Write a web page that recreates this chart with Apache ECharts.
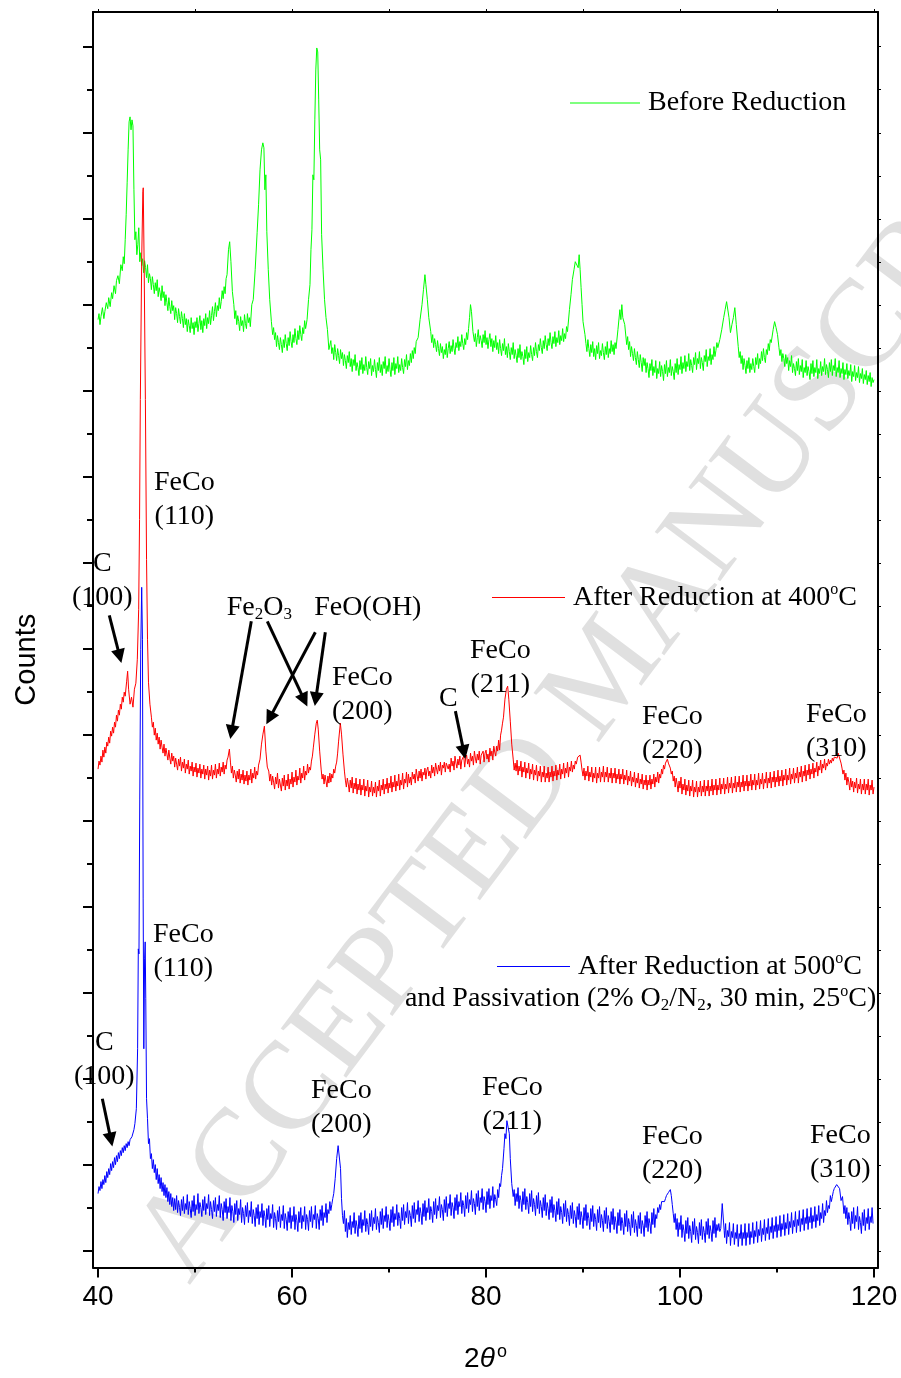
<!DOCTYPE html>
<html>
<head>
<meta charset="utf-8">
<script src="https://cdn.jsdelivr.net/npm/echarts@6/dist/echarts.min.js"></script>
<style>
  html, body { margin: 0; padding: 0; background: #fff; }
  #xrd { width: 901px; height: 1378px; }
</style>
</head>
<body>
<div id="xrd"></div>
<script>
const serif = '"Liberation Serif", "Times New Roman", serif'
const sans = '"Liberation Sans", Arial, sans-serif'

// axis ticks (2theta in degrees, counts in arbitrary units)
const xMajorTicks = [40, 60, 80, 100, 120]
const xMinorTicks = [50, 70, 90, 110]
const xTopTicks = [40, 50, 60, 70, 80, 90, 100, 110, 120]
const yMajorTicks = [16.3, 102.4, 188.6, 274.7, 360.9, 447.0, 533.1, 619.3, 705.4, 791.6, 877.7, 963.8, 1050.0, 1136.1, 1222.3]
const yMinorTicks = [59.4, 145.5, 231.6, 317.8, 403.9, 490.1, 576.2, 662.3, 748.5, 834.6, 920.8, 1006.9, 1093.0, 1179.2]

// patterns: [2theta, counts]
const beforeReduction = [[40.0,949],[40.1,955],[40.2,944],[40.3,952],[40.45,961],[40.6,950],[40.7,957],[40.85,966],[41.0,960],[41.1,971],[41.25,962],[41.4,976],[41.5,970],[41.65,983],[41.8,975],[41.9,988],[42.05,993],[42.2,985],[42.35,1004],[42.5,998],[42.6,1012],[42.7,1005],[42.8,1029],[42.9,1054],[43.0,1086],[43.1,1119],[43.2,1147],[43.3,1152],[43.4,1139],[43.5,1149],[43.6,1143],[43.7,1079],[43.8,1029],[43.9,1037],[44.0,1014],[44.1,1024],[44.2,1041],[44.3,1007],[44.4,1016],[44.5,1003],[44.6,1010],[44.7,996],[44.8,1008],[44.9,1001],[45.0,991],[45.1,1004],[45.2,986],[45.3,995],[45.4,990],[45.5,979],[45.6,992],[45.7,984],[45.8,975],[45.9,986],[46.0,978],[46.1,989],[46.2,972],[46.3,981],[46.4,976],[46.5,968],[46.6,983],[46.7,971],[46.8,977],[46.9,963],[47.0,974],[47.1,966],[47.2,958],[47.3,971],[47.4,962],[47.5,955],[47.6,968],[47.7,958],[47.8,963],[47.9,949],[48.0,961],[48.1,955],[48.2,946],[48.3,960],[48.4,952],[48.5,945],[48.6,957],[48.7,950],[48.8,941],[48.9,955],[49.0,944],[49.1,950],[49.2,937],[49.3,949],[49.4,943],[49.5,936],[49.6,951],[49.7,940],[49.8,946],[49.9,934],[50.0,947],[50.1,941],[50.2,951],[50.3,937],[50.4,945],[50.5,953],[50.6,939],[50.7,948],[50.8,936],[50.9,950],[51.0,943],[51.1,955],[51.2,940],[51.3,951],[51.4,945],[51.5,958],[51.6,944],[51.7,953],[51.8,962],[51.9,948],[52.0,957],[52.1,966],[52.2,952],[52.3,963],[52.4,958],[52.5,971],[52.6,960],[52.7,967],[52.8,978],[52.9,970],[53.0,982],[53.1,975],[53.2,990],[53.3,994],[53.45,1019],[53.57,1027],[53.7,1007],[53.85,977],[54.0,964],[54.1,950],[54.2,958],[54.3,944],[54.4,953],[54.5,947],[54.6,938],[54.7,952],[54.8,943],[54.9,948],[55.0,937],[55.1,954],[55.2,945],[55.3,940],[55.4,955],[55.5,946],[55.6,951],[55.7,942],[55.85,964],[56.0,969],[56.2,999],[56.4,1036],[56.55,1064],[56.7,1099],[56.85,1119],[56.99,1126],[57.1,1121],[57.2,1079],[57.3,1094],[57.4,1037],[57.55,999],[57.7,969],[57.87,947],[58.0,934],[58.1,941],[58.2,929],[58.3,936],[58.4,922],[58.5,933],[58.6,926],[58.7,919],[58.8,931],[58.9,924],[59.0,916],[59.1,929],[59.2,921],[59.3,934],[59.4,925],[59.5,918],[59.6,931],[59.7,923],[59.8,937],[59.9,927],[60.0,921],[60.1,934],[60.2,926],[60.3,940],[60.4,930],[60.5,924],[60.6,938],[60.7,929],[60.8,943],[60.9,934],[61.0,928],[61.1,941],[61.2,935],[61.3,948],[61.4,940],[61.55,949],[61.7,969],[61.85,984],[61.95,1019],[62.05,1039],[62.15,1094],[62.25,1089],[62.35,1149],[62.45,1199],[62.55,1221],[62.65,1217],[62.75,1169],[62.85,1119],[62.95,1109],[63.05,1034],[63.2,999],[63.35,969],[63.5,951],[63.65,939],[63.8,919],[64.0,928],[64.1,915],[64.2,921],[64.3,909],[64.4,924],[64.5,916],[64.6,908],[64.7,920],[64.8,913],[64.9,905],[65.0,919],[65.1,910],[65.2,916],[65.3,903],[65.4,914],[65.5,908],[65.6,900],[65.7,913],[65.8,906],[65.9,917],[66.0,902],[66.1,910],[66.2,897],[66.3,909],[66.4,903],[66.5,914],[66.6,898],[66.7,906],[66.8,901],[66.9,893],[67.0,908],[67.1,899],[67.2,911],[67.3,895],[67.4,904],[67.5,898],[67.6,912],[67.7,901],[67.8,894],[67.9,907],[68.0,900],[68.1,910],[68.2,893],[68.3,903],[68.4,897],[68.5,909],[68.6,899],[68.7,891],[68.8,906],[68.9,898],[69.0,911],[69.1,896],[69.2,904],[69.3,893],[69.4,907],[69.5,900],[69.6,912],[69.7,895],[69.8,903],[69.9,897],[70.0,910],[70.1,899],[70.2,892],[70.3,906],[70.4,898],[70.5,911],[70.6,894],[70.7,905],[70.8,900],[70.9,912],[71.0,896],[71.1,904],[71.2,898],[71.3,910],[71.4,901],[71.5,895],[71.6,909],[71.7,902],[71.8,914],[71.9,899],[72.0,908],[72.1,903],[72.2,915],[72.3,906],[72.4,918],[72.5,910],[72.6,921],[72.7,915],[72.8,927],[73.0,931],[73.2,949],[73.4,964],[73.55,979],[73.7,994],[73.8,984],[73.95,969],[74.1,951],[74.3,937],[74.4,926],[74.5,934],[74.6,921],[74.7,930],[74.8,924],[74.9,917],[75.0,928],[75.1,920],[75.2,913],[75.3,925],[75.4,916],[75.5,922],[75.6,910],[75.7,919],[75.8,914],[75.9,925],[76.0,911],[76.1,920],[76.2,927],[76.3,915],[76.4,923],[76.5,917],[76.6,929],[76.7,920],[76.8,914],[76.9,926],[77.0,921],[77.1,932],[77.2,918],[77.3,927],[77.4,922],[77.5,934],[77.6,925],[77.7,919],[77.8,930],[77.9,924],[78.0,936],[78.1,929],[78.2,940],[78.3,951],[78.4,964],[78.5,957],[78.65,937],[78.8,927],[78.9,935],[79.0,922],[79.1,931],[79.2,939],[79.3,925],[79.4,933],[79.5,928],[79.6,921],[79.7,934],[79.8,926],[79.9,938],[80.0,924],[80.1,931],[80.2,920],[80.3,929],[80.4,935],[80.5,922],[80.6,930],[80.7,917],[80.8,928],[80.9,921],[81.0,933],[81.1,919],[81.2,926],[81.3,915],[81.4,929],[81.5,920],[81.6,913],[81.7,925],[81.8,918],[81.9,930],[82.0,914],[82.1,922],[82.2,911],[82.3,925],[82.4,917],[82.5,909],[82.6,921],[82.7,914],[82.8,926],[82.9,910],[83.0,919],[83.1,913],[83.2,906],[83.3,920],[83.4,911],[83.5,924],[83.6,909],[83.7,917],[83.8,912],[83.9,904],[84.0,919],[84.1,910],[84.2,922],[84.3,907],[84.4,916],[84.5,911],[84.6,923],[84.7,914],[84.8,908],[84.9,921],[85.0,913],[85.1,926],[85.2,917],[85.3,911],[85.4,924],[85.5,918],[85.6,930],[85.7,921],[85.8,915],[85.9,928],[86.0,920],[86.1,933],[86.2,924],[86.3,918],[86.4,930],[86.5,923],[86.6,936],[86.7,926],[86.8,920],[86.9,932],[87.0,925],[87.1,937],[87.2,922],[87.3,931],[87.4,926],[87.5,938],[87.6,924],[87.7,933],[87.8,928],[87.9,940],[88.0,927],[88.1,935],[88.2,930],[88.3,942],[88.4,937],[88.6,959],[88.76,974],[88.9,989],[89.07,999],[89.2,1007],[89.4,1009],[89.5,1001],[89.6,1014],[89.7,999],[89.8,981],[89.9,964],[90.0,947],[90.2,934],[90.3,925],[90.4,917],[90.5,929],[90.6,920],[90.7,912],[90.8,924],[90.9,916],[91.0,927],[91.1,912],[91.2,920],[91.3,909],[91.4,923],[91.5,915],[91.6,926],[91.7,910],[91.8,918],[91.9,913],[92.0,925],[92.1,916],[92.2,909],[92.3,922],[92.4,914],[92.5,927],[92.6,911],[92.7,920],[92.8,915],[92.9,928],[93.0,917],[93.1,924],[93.2,914],[93.3,926],[93.4,920],[93.6,939],[93.8,959],[93.9,949],[94.0,964],[94.1,951],[94.3,944],[94.5,924],[94.6,932],[94.7,919],[94.8,927],[94.9,912],[95.0,922],[95.1,915],[95.2,908],[95.3,920],[95.4,911],[95.5,904],[95.6,917],[95.7,909],[95.8,901],[95.9,914],[96.0,906],[96.1,897],[96.2,911],[96.3,903],[96.4,910],[96.5,896],[96.6,906],[96.7,900],[96.8,891],[96.9,905],[97.0,898],[97.1,909],[97.2,893],[97.3,902],[97.4,896],[97.5,908],[97.6,890],[97.7,900],[97.8,895],[97.9,907],[98.0,892],[98.1,903],[98.2,897],[98.3,888],[98.4,904],[98.5,895],[98.6,908],[98.7,892],[98.8,901],[98.9,896],[99.0,909],[99.1,893],[99.2,902],[99.3,897],[99.4,889],[99.5,905],[99.6,896],[99.7,910],[99.8,894],[99.9,904],[100.0,899],[100.1,912],[100.2,895],[100.3,906],[100.4,900],[100.5,913],[100.6,897],[100.7,907],[100.8,902],[100.9,915],[101.0,898],[101.1,909],[101.2,903],[101.3,896],[101.4,911],[101.5,904],[101.6,916],[101.7,899],[101.8,910],[101.9,905],[102.0,917],[102.1,900],[102.2,911],[102.3,906],[102.4,898],[102.5,913],[102.6,907],[102.7,919],[102.8,902],[102.9,912],[103.0,908],[103.1,920],[103.2,904],[103.3,914],[103.4,909],[103.5,922],[103.6,912],[103.7,918],[103.8,926],[103.9,921],[104.1,929],[104.3,939],[104.5,951],[104.65,959],[104.8,967],[104.95,969],[105.05,951],[105.2,936],[105.35,944],[105.5,951],[105.65,961],[105.8,944],[106.0,922],[106.1,911],[106.2,917],[106.3,905],[106.4,913],[106.5,899],[106.6,910],[106.7,903],[106.8,895],[106.9,908],[107.0,900],[107.1,911],[107.2,896],[107.3,905],[107.4,899],[107.5,910],[107.6,902],[107.7,896],[107.8,911],[107.9,904],[108.0,915],[108.1,900],[108.2,910],[108.3,905],[108.4,917],[108.5,908],[108.6,920],[108.7,911],[108.8,906],[108.9,919],[109.0,914],[109.1,925],[109.2,918],[109.3,929],[109.4,926],[109.6,939],[109.75,947],[109.9,941],[110.05,934],[110.2,921],[110.3,913],[110.4,919],[110.5,907],[110.6,915],[110.7,910],[110.8,902],[110.9,914],[111.0,905],[111.1,911],[111.2,898],[111.3,908],[111.4,902],[111.5,913],[111.6,896],[111.7,905],[111.8,900],[111.9,893],[112.0,907],[112.1,898],[112.2,910],[112.3,894],[112.4,903],[112.5,897],[112.6,909],[112.7,891],[112.8,901],[112.9,896],[113.0,908],[113.1,893],[113.2,902],[113.3,897],[113.4,889],[113.5,905],[113.6,895],[113.7,908],[113.8,892],[113.9,901],[114.0,896],[114.1,909],[114.2,890],[114.3,900],[114.4,895],[114.5,907],[114.6,893],[114.7,902],[114.8,897],[114.9,910],[115.0,894],[115.1,904],[115.2,899],[115.3,891],[115.4,906],[115.5,897],[115.6,909],[115.7,893],[115.8,903],[115.9,898],[116.0,910],[116.1,892],[116.2,901],[116.3,896],[116.4,908],[116.5,891],[116.6,900],[116.7,895],[116.8,906],[116.9,889],[117.0,899],[117.1,894],[117.2,905],[117.3,890],[117.4,898],[117.5,893],[117.6,904],[117.7,887],[117.8,897],[117.9,892],[118.0,903],[118.1,888],[118.2,896],[118.3,891],[118.4,902],[118.5,886],[118.6,895],[118.7,890],[118.8,900],[118.9,885],[119.0,894],[119.1,889],[119.2,898],[119.3,884],[119.4,893],[119.5,887],[119.6,896],[119.7,882],[119.8,891],[119.9,886],[120.0,889]]

const after400 = [[40.0,499],[40.1,507],[40.2,503],[40.3,512],[40.4,506],[40.5,518],[40.6,511],[40.7,521],[40.8,515],[40.9,526],[41.0,522],[41.1,531],[41.2,525],[41.3,537],[41.4,532],[41.5,541],[41.6,535],[41.7,546],[41.8,541],[41.9,553],[42.0,547],[42.1,558],[42.2,553],[42.3,564],[42.4,559],[42.5,571],[42.6,566],[42.7,576],[42.8,572],[42.95,587],[43.05,597],[43.15,579],[43.3,564],[43.45,571],[43.6,561],[43.75,579],[43.9,585],[44.05,609],[44.19,659],[44.28,749],[44.36,869],[44.5,1009],[44.62,1077],[44.66,1081],[44.75,1007],[44.88,869],[45.0,709],[45.1,629],[45.2,586],[45.35,564],[45.5,551],[45.6,541],[45.7,546],[45.8,533],[45.9,540],[46.0,528],[46.1,535],[46.2,524],[46.3,531],[46.4,519],[46.5,528],[46.6,521],[46.7,515],[46.8,524],[46.9,512],[47.0,520],[47.1,514],[47.2,508],[47.3,518],[47.4,510],[47.5,504],[47.6,515],[47.7,507],[47.8,512],[47.9,501],[48.0,510],[48.1,504],[48.2,498],[48.3,509],[48.4,502],[48.5,511],[48.6,497],[48.7,506],[48.8,500],[48.9,509],[49.0,495],[49.1,504],[49.2,499],[49.3,508],[49.4,494],[49.5,502],[49.6,497],[49.7,506],[49.8,492],[49.9,501],[50.0,496],[50.1,505],[50.2,491],[50.3,500],[50.4,495],[50.5,504],[50.6,490],[50.7,499],[50.8,494],[50.9,503],[51.0,489],[51.1,499],[51.2,493],[51.3,502],[51.4,488],[51.5,498],[51.6,492],[51.7,503],[51.8,489],[51.9,498],[52.0,493],[52.1,504],[52.2,490],[52.3,499],[52.4,494],[52.5,505],[52.6,492],[52.7,501],[52.8,496],[52.9,506],[53.0,494],[53.1,503],[53.2,499],[53.3,508],[53.4,511],[53.54,519],[53.65,506],[53.75,495],[53.85,502],[53.95,490],[54.05,498],[54.15,493],[54.25,486],[54.35,497],[54.45,489],[54.55,499],[54.65,485],[54.75,494],[54.85,488],[54.95,498],[55.05,484],[55.15,493],[55.25,487],[55.35,497],[55.45,483],[55.55,493],[55.65,488],[55.75,499],[55.85,485],[55.95,495],[56.05,490],[56.15,501],[56.25,489],[56.35,497],[56.45,493],[56.55,503],[56.7,509],[56.85,524],[57.0,534],[57.15,542],[57.3,517],[57.45,501],[57.6,497],[57.7,487],[57.8,494],[57.9,483],[58.0,492],[58.1,486],[58.2,479],[58.3,491],[58.4,484],[58.5,495],[58.6,480],[58.7,489],[58.8,483],[58.9,477],[59.0,490],[59.1,482],[59.2,493],[59.3,478],[59.4,488],[59.5,482],[59.6,494],[59.7,479],[59.8,489],[59.9,484],[60.0,496],[60.1,481],[60.2,491],[60.3,486],[60.4,498],[60.5,483],[60.6,492],[60.7,488],[60.8,500],[60.9,485],[61.0,495],[61.1,490],[61.2,502],[61.3,488],[61.4,497],[61.5,493],[61.6,504],[61.7,495],[61.8,501],[61.9,498],[62.0,507],[62.1,512],[62.2,521],[62.35,534],[62.5,545],[62.6,548],[62.7,539],[62.85,517],[63.0,499],[63.1,489],[63.2,494],[63.3,484],[63.4,493],[63.5,487],[63.6,481],[63.7,492],[63.8,485],[63.9,495],[64.0,486],[64.1,494],[64.2,490],[64.3,499],[64.4,495],[64.5,502],[64.6,506],[64.7,515],[64.8,527],[64.98,545],[65.1,534],[65.25,514],[65.4,497],[65.5,488],[65.6,481],[65.7,490],[65.8,484],[65.9,476],[66.0,488],[66.1,480],[66.2,491],[66.3,475],[66.4,485],[66.5,479],[66.6,490],[66.7,474],[66.8,484],[66.9,478],[67.0,489],[67.1,473],[67.2,483],[67.3,478],[67.4,489],[67.5,472],[67.6,482],[67.7,477],[67.8,488],[67.9,471],[68.0,481],[68.1,476],[68.2,487],[68.3,472],[68.4,481],[68.5,475],[68.6,486],[68.7,471],[68.8,482],[68.9,477],[69.0,488],[69.1,472],[69.2,483],[69.3,478],[69.4,489],[69.5,474],[69.6,484],[69.7,479],[69.8,490],[69.9,475],[70.0,485],[70.1,480],[70.2,492],[70.3,476],[70.4,486],[70.5,481],[70.6,493],[70.7,477],[70.8,487],[70.9,482],[71.0,494],[71.1,478],[71.2,488],[71.3,483],[71.4,495],[71.5,479],[71.6,489],[71.7,485],[71.8,496],[71.9,481],[72.0,494],[72.1,485],[72.2,491],[72.3,483],[72.4,496],[72.5,489],[72.6,494],[72.7,485],[72.8,499],[72.9,492],[73.0,487],[73.1,497],[73.2,490],[73.3,499],[73.4,487],[73.5,496],[73.6,493],[73.7,500],[73.8,489],[73.9,498],[74.0,501],[74.1,492],[74.2,497],[74.3,490],[74.4,503],[74.5,495],[74.6,501],[74.7,492],[74.8,505],[74.9,499],[75.0,494],[75.1,503],[75.2,497],[75.3,506],[75.4,493],[75.5,503],[75.6,500],[75.7,506],[75.8,496],[75.9,505],[76.0,507],[76.1,499],[76.2,504],[76.3,496],[76.4,510],[76.5,502],[76.6,507],[76.7,498],[76.8,512],[76.9,505],[77.0,500],[77.1,509],[77.2,503],[77.3,512],[77.4,499],[77.5,508],[77.6,506],[77.7,512],[77.8,501],[77.9,510],[78.0,513],[78.1,504],[78.2,509],[78.3,501],[78.4,515],[78.5,507],[78.6,512],[78.7,503],[78.8,517],[78.9,510],[79.0,505],[79.1,514],[79.2,508],[79.3,517],[79.4,504],[79.5,513],[79.6,511],[79.7,517],[79.8,506],[79.9,515],[80.0,518],[80.1,509],[80.2,514],[80.3,506],[80.4,520],[80.5,512],[80.6,517],[80.7,508],[80.8,522],[80.9,516],[81.0,512],[81.1,522],[81.2,517],[81.3,528],[81.4,518],[81.5,533],[81.6,538],[81.7,545],[81.8,551],[81.95,569],[82.1,579],[82.23,582],[82.35,569],[82.5,547],[82.65,524],[82.8,509],[82.9,498],[83.0,505],[83.1,497],[83.2,508],[83.3,493],[83.4,502],[83.5,497],[83.6,507],[83.7,491],[83.8,501],[83.9,496],[84.0,506],[84.1,490],[84.2,500],[84.3,495],[84.4,505],[84.5,489],[84.6,499],[84.7,494],[84.8,504],[84.9,488],[85.0,498],[85.1,493],[85.2,503],[85.3,487],[85.4,497],[85.5,492],[85.6,502],[85.7,486],[85.8,496],[85.9,491],[86.0,502],[86.1,486],[86.2,495],[86.3,490],[86.4,501],[86.5,486],[86.6,496],[86.7,491],[86.8,502],[86.9,487],[87.0,497],[87.1,492],[87.2,503],[87.3,488],[87.4,498],[87.5,493],[87.6,504],[87.7,489],[87.8,499],[87.9,494],[88.0,505],[88.1,490],[88.2,500],[88.3,495],[88.4,506],[88.5,491],[88.6,501],[88.7,497],[88.8,507],[88.9,496],[89.0,503],[89.1,499],[89.2,507],[89.3,504],[89.45,511],[89.6,509],[89.7,513],[89.8,506],[89.9,498],[90.0,492],[90.1,500],[90.2,488],[90.3,497],[90.4,492],[90.5,502],[90.6,487],[90.7,496],[90.8,491],[90.9,501],[91.0,486],[91.1,495],[91.2,490],[91.3,501],[91.4,485],[91.5,495],[91.6,490],[91.7,501],[91.8,486],[91.9,496],[92.0,491],[92.1,502],[92.2,486],[92.3,496],[92.4,491],[92.5,501],[92.6,486],[92.7,495],[92.8,490],[92.9,500],[93.0,485],[93.1,495],[93.2,490],[93.3,500],[93.4,485],[93.5,494],[93.6,489],[93.7,499],[93.8,484],[93.9,494],[94.0,489],[94.1,499],[94.2,484],[94.3,493],[94.4,488],[94.5,498],[94.6,483],[94.7,492],[94.8,487],[94.9,497],[95.0,482],[95.1,491],[95.2,486],[95.3,496],[95.4,481],[95.5,490],[95.6,485],[95.7,495],[95.8,480],[95.9,489],[96.0,484],[96.1,494],[96.2,479],[96.3,488],[96.4,483],[96.5,493],[96.6,478],[96.7,488],[96.8,483],[96.9,493],[97.0,479],[97.1,489],[97.2,484],[97.3,494],[97.4,481],[97.5,491],[97.6,486],[97.7,496],[97.8,485],[97.9,494],[98.0,490],[98.1,499],[98.2,494],[98.3,503],[98.4,499],[98.5,505],[98.6,503],[98.7,509],[98.8,505],[98.9,507],[99.0,500],[99.1,494],[99.2,497],[99.3,487],[99.4,492],[99.5,481],[99.6,490],[99.7,484],[99.8,476],[99.9,487],[100.0,480],[100.1,491],[100.2,474],[100.3,484],[100.4,478],[100.5,489],[100.6,473],[100.7,483],[100.8,477],[100.9,488],[101.0,472],[101.1,482],[101.2,477],[101.3,488],[101.4,471],[101.5,481],[101.6,476],[101.7,487],[101.8,471],[101.9,481],[102.0,476],[102.1,487],[102.2,472],[102.3,482],[102.4,476],[102.5,488],[102.6,472],[102.7,482],[102.8,477],[102.9,488],[103.0,472],[103.1,482],[103.2,477],[103.3,489],[103.4,473],[103.5,483],[103.6,478],[103.7,489],[103.8,473],[103.9,483],[104.0,478],[104.1,490],[104.2,474],[104.3,484],[104.4,479],[104.5,490],[104.6,474],[104.7,484],[104.8,479],[104.9,491],[105.0,475],[105.1,485],[105.2,480],[105.3,491],[105.4,475],[105.5,485],[105.6,480],[105.7,492],[105.8,476],[105.9,486],[106.0,481],[106.1,492],[106.2,476],[106.3,486],[106.4,481],[106.5,493],[106.6,477],[106.7,487],[106.8,482],[106.9,493],[107.0,477],[107.1,487],[107.2,482],[107.3,494],[107.4,478],[107.5,488],[107.6,483],[107.7,494],[107.8,478],[107.9,488],[108.0,483],[108.1,495],[108.2,479],[108.3,489],[108.4,484],[108.5,495],[108.6,479],[108.7,489],[108.8,485],[108.9,496],[109.0,480],[109.1,490],[109.2,485],[109.3,496],[109.4,480],[109.5,491],[109.6,486],[109.7,497],[109.8,481],[109.9,491],[110.0,486],[110.1,498],[110.2,482],[110.3,492],[110.4,487],[110.5,498],[110.6,482],[110.7,493],[110.8,488],[110.9,499],[111.0,483],[111.1,493],[111.2,488],[111.3,500],[111.4,484],[111.5,494],[111.6,489],[111.7,500],[111.8,485],[111.9,495],[112.0,490],[112.1,501],[112.2,485],[112.3,496],[112.4,491],[112.5,502],[112.6,486],[112.7,497],[112.8,492],[112.9,503],[113.0,487],[113.1,498],[113.2,493],[113.3,504],[113.4,489],[113.5,499],[113.6,494],[113.7,505],[113.8,490],[113.9,500],[114.0,496],[114.1,506],[114.2,492],[114.3,502],[114.4,498],[114.5,508],[114.6,495],[114.7,504],[114.8,500],[114.9,509],[115.0,498],[115.1,505],[115.2,502],[115.3,509],[115.4,504],[115.5,508],[115.6,505],[115.7,510],[115.8,507],[115.9,511],[116.0,509],[116.1,513],[116.2,510],[116.3,515],[116.45,513],[116.6,505],[116.7,500],[116.8,494],[116.9,498],[117.0,488],[117.1,495],[117.2,483],[117.3,491],[117.4,486],[117.5,478],[117.6,490],[117.7,481],[117.8,487],[117.9,476],[118.0,486],[118.1,480],[118.2,490],[118.3,475],[118.4,484],[118.5,479],[118.6,489],[118.7,474],[118.8,484],[118.9,478],[119.0,489],[119.1,474],[119.2,484],[119.3,478],[119.4,489],[119.5,473],[119.6,483],[119.7,478],[119.8,488],[119.9,474],[120.0,481]]

const after500 = [[40.0,74],[40.1,81],[40.2,77],[40.3,86],[40.4,79],[40.5,88],[40.6,83],[40.7,92],[40.8,85],[40.9,96],[41.0,90],[41.1,99],[41.2,93],[41.3,104],[41.4,97],[41.5,106],[41.6,100],[41.7,110],[41.8,103],[41.9,112],[42.0,106],[42.1,115],[42.2,109],[42.3,117],[42.4,112],[42.5,120],[42.6,115],[42.7,122],[42.8,117],[42.9,124],[43.0,120],[43.1,126],[43.2,122],[43.3,128],[43.4,126],[43.5,131],[43.6,133],[43.7,138],[43.8,144],[43.95,159],[44.08,219],[44.15,319],[44.22,314],[44.3,469],[44.4,619],[44.5,681],[44.58,629],[44.65,369],[44.72,219],[44.8,309],[44.86,326],[44.92,269],[45.0,169],[45.1,149],[45.2,124],[45.3,129],[45.4,109],[45.5,114],[45.6,99],[45.7,108],[45.8,95],[45.9,103],[46.0,88],[46.1,99],[46.2,84],[46.3,93],[46.4,79],[46.5,90],[46.6,76],[46.7,85],[46.8,72],[46.9,83],[47.0,70],[47.1,80],[47.2,66],[47.3,76],[47.4,63],[47.5,74],[47.6,61],[47.7,70],[47.8,57],[47.9,69],[48.0,58],[48.1,72],[48.2,55],[48.3,67],[48.4,60],[48.5,52],[48.6,68],[48.7,57],[48.8,71],[48.9,54],[49.0,64],[49.1,58],[49.2,73],[49.3,53],[49.4,66],[49.5,59],[49.6,50],[49.7,67],[49.8,56],[49.9,72],[50.0,52],[50.1,63],[50.2,58],[50.3,74],[50.4,54],[50.5,65],[50.6,60],[50.7,51],[50.8,68],[50.9,57],[51.0,71],[51.1,53],[51.2,64],[51.3,59],[51.4,73],[51.5,52],[51.6,66],[51.7,58],[51.8,49],[51.9,67],[52.0,56],[52.1,70],[52.2,51],[52.3,63],[52.4,57],[52.5,72],[52.6,50],[52.7,64],[52.8,58],[52.9,47],[53.0,66],[53.1,55],[53.2,69],[53.3,49],[53.4,61],[53.5,55],[53.6,70],[53.7,47],[53.8,62],[53.9,56],[54.0,45],[54.1,64],[54.2,53],[54.3,67],[54.4,47],[54.5,59],[54.6,53],[54.7,68],[54.8,45],[54.9,60],[55.0,54],[55.1,43],[55.2,62],[55.3,51],[55.4,65],[55.5,45],[55.6,57],[55.7,51],[55.8,66],[55.9,44],[56.0,58],[56.1,52],[56.2,41],[56.3,60],[56.4,49],[56.5,63],[56.6,43],[56.7,56],[56.8,50],[56.9,64],[57.0,42],[57.1,57],[57.2,51],[57.3,40],[57.4,59],[57.5,48],[57.6,62],[57.7,41],[57.8,54],[57.9,49],[58.0,63],[58.1,40],[58.2,55],[58.3,49],[58.4,38],[58.5,57],[58.6,46],[58.7,61],[58.8,40],[58.9,53],[59.0,47],[59.1,62],[59.2,39],[59.3,54],[59.4,48],[59.5,37],[59.6,56],[59.7,45],[59.8,60],[59.9,39],[60.0,52],[60.1,46],[60.2,61],[60.3,38],[60.4,53],[60.5,47],[60.6,36],[60.7,56],[60.8,45],[60.9,60],[61.0,39],[61.1,52],[61.2,46],[61.3,61],[61.4,38],[61.5,53],[61.6,48],[61.7,37],[61.8,57],[61.9,46],[62.0,61],[62.1,40],[62.2,53],[62.3,48],[62.4,62],[62.5,39],[62.6,54],[62.7,49],[62.8,38],[62.9,58],[63.0,47],[63.1,62],[63.2,42],[63.3,55],[63.4,50],[63.5,64],[63.6,45],[63.7,58],[63.8,54],[63.9,66],[64.0,57],[64.1,63],[64.2,69],[64.3,74],[64.45,89],[64.6,109],[64.75,122],[64.88,123],[65.0,99],[65.1,69],[65.2,52],[65.3,44],[65.4,57],[65.5,36],[65.6,49],[65.7,30],[65.8,45],[65.9,38],[66.0,52],[66.1,33],[66.2,46],[66.3,40],[66.4,55],[66.5,34],[66.6,47],[66.7,41],[66.8,31],[66.9,52],[67.0,39],[67.1,55],[67.2,35],[67.3,48],[67.4,42],[67.5,57],[67.6,36],[67.7,49],[67.8,43],[67.9,33],[68.0,54],[68.1,41],[68.2,57],[68.3,37],[68.4,50],[68.5,44],[68.6,59],[68.7,38],[68.8,51],[68.9,45],[69.0,35],[69.1,56],[69.2,43],[69.3,59],[69.4,39],[69.5,52],[69.6,46],[69.7,61],[69.8,40],[69.9,53],[70.0,47],[70.1,37],[70.2,58],[70.3,45],[70.4,61],[70.5,41],[70.6,54],[70.7,48],[70.8,63],[70.9,42],[71.0,55],[71.1,49],[71.2,39],[71.3,60],[71.4,47],[71.5,63],[71.6,43],[71.7,56],[71.8,50],[71.9,65],[72.0,44],[72.1,57],[72.2,52],[72.3,41],[72.4,62],[72.5,49],[72.6,65],[72.7,45],[72.8,58],[72.9,53],[73.0,67],[73.1,46],[73.2,60],[73.3,54],[73.4,43],[73.5,64],[73.6,51],[73.7,67],[73.8,47],[73.9,60],[74.0,55],[74.1,69],[74.2,48],[74.3,61],[74.4,56],[74.5,45],[74.6,66],[74.7,53],[74.8,69],[74.9,49],[75.0,62],[75.1,57],[75.2,71],[75.3,50],[75.4,63],[75.5,58],[75.6,47],[75.7,68],[75.8,55],[75.9,71],[76.0,51],[76.1,64],[76.2,59],[76.3,73],[76.4,52],[76.5,65],[76.6,60],[76.7,49],[76.8,70],[76.9,57],[77.0,73],[77.1,53],[77.2,66],[77.3,61],[77.4,75],[77.5,54],[77.6,67],[77.7,62],[77.8,51],[77.9,72],[78.0,59],[78.1,75],[78.2,55],[78.3,68],[78.4,63],[78.5,77],[78.6,56],[78.7,69],[78.8,64],[78.9,53],[79.0,74],[79.1,61],[79.2,77],[79.3,57],[79.4,70],[79.5,65],[79.6,79],[79.7,58],[79.8,71],[79.9,66],[80.0,55],[80.1,76],[80.2,63],[80.3,79],[80.4,59],[80.5,72],[80.6,67],[80.7,81],[80.8,60],[80.9,73],[81.0,68],[81.1,62],[81.2,78],[81.3,70],[81.4,84],[81.5,81],[81.6,92],[81.7,99],[81.85,119],[81.95,134],[82.05,129],[82.15,147],[82.3,149],[82.4,134],[82.5,109],[82.65,84],[82.8,71],[82.9,78],[83.0,62],[83.1,74],[83.2,66],[83.3,80],[83.4,59],[83.5,72],[83.6,67],[83.7,56],[83.8,76],[83.9,63],[84.0,79],[84.1,58],[84.2,71],[84.3,65],[84.4,54],[84.5,74],[84.6,61],[84.7,77],[84.8,56],[84.9,69],[85.0,63],[85.1,52],[85.2,72],[85.3,59],[85.4,75],[85.5,54],[85.6,67],[85.7,61],[85.8,50],[85.9,70],[86.0,57],[86.1,73],[86.2,52],[86.3,65],[86.4,59],[86.5,48],[86.6,68],[86.7,55],[86.8,71],[86.9,50],[87.0,63],[87.1,57],[87.2,46],[87.3,66],[87.4,53],[87.5,69],[87.6,48],[87.7,61],[87.8,55],[87.9,44],[88.0,64],[88.1,51],[88.2,67],[88.3,46],[88.4,59],[88.5,53],[88.6,42],[88.7,62],[88.8,49],[88.9,65],[89.0,44],[89.1,57],[89.2,51],[89.3,40],[89.4,61],[89.5,48],[89.6,64],[89.7,43],[89.8,56],[89.9,50],[90.0,39],[90.1,60],[90.2,47],[90.3,63],[90.4,42],[90.5,55],[90.6,49],[90.7,38],[90.8,59],[90.9,46],[91.0,62],[91.1,41],[91.2,54],[91.3,48],[91.4,37],[91.5,58],[91.6,45],[91.7,61],[91.8,40],[91.9,53],[92.0,47],[92.1,36],[92.2,57],[92.3,44],[92.4,60],[92.5,39],[92.6,52],[92.7,46],[92.8,35],[92.9,56],[93.0,43],[93.1,59],[93.2,38],[93.3,51],[93.4,45],[93.5,34],[93.6,55],[93.7,42],[93.8,58],[93.9,37],[94.0,50],[94.1,44],[94.2,33],[94.3,54],[94.4,41],[94.5,57],[94.6,36],[94.7,49],[94.8,43],[94.9,32],[95.0,53],[95.1,40],[95.2,56],[95.3,35],[95.4,48],[95.5,42],[95.6,31],[95.7,52],[95.8,39],[95.9,55],[96.0,34],[96.1,47],[96.2,42],[96.3,31],[96.4,52],[96.5,40],[96.6,56],[96.7,36],[96.8,49],[96.9,44],[97.0,34],[97.1,55],[97.2,43],[97.3,59],[97.4,40],[97.5,53],[97.6,49],[97.7,60],[97.8,55],[97.9,63],[98.0,58],[98.1,66],[98.2,64],[98.3,68],[98.4,66],[98.5,69],[98.6,72],[98.7,70],[98.8,75],[98.9,77],[99.0,78],[99.1,72],[99.2,63],[99.3,54],[99.4,45],[99.5,54],[99.6,38],[99.7,49],[99.8,31],[99.9,45],[100.0,38],[100.1,52],[100.2,30],[100.3,43],[100.4,37],[100.5,26],[100.6,47],[100.7,34],[100.8,50],[100.9,29],[101.0,42],[101.1,36],[101.2,25],[101.3,46],[101.4,33],[101.5,49],[101.6,28],[101.7,41],[101.8,35],[101.9,24],[102.0,45],[102.1,32],[102.2,48],[102.3,28],[102.4,41],[102.5,35],[102.6,25],[102.7,46],[102.8,33],[102.9,49],[103.0,29],[103.1,42],[103.2,36],[103.3,26],[103.4,47],[103.5,34],[103.6,50],[103.7,30],[103.8,43],[103.9,37],[104.0,44],[104.1,36],[104.2,39],[104.35,64],[104.45,66],[104.55,37],[104.6,30],[104.7,44],[104.8,24],[104.9,37],[105.0,31],[105.1,45],[105.2,22],[105.3,36],[105.4,30],[105.5,44],[105.6,23],[105.7,35],[105.8,29],[105.9,43],[106.0,21],[106.1,34],[106.2,29],[106.3,43],[106.4,22],[106.5,35],[106.6,29],[106.7,44],[106.8,22],[106.9,35],[107.0,30],[107.1,44],[107.2,23],[107.3,36],[107.4,30],[107.5,45],[107.6,24],[107.7,37],[107.8,31],[107.9,46],[108.0,25],[108.1,38],[108.2,32],[108.3,47],[108.4,26],[108.5,39],[108.6,33],[108.7,48],[108.8,27],[108.9,40],[109.0,34],[109.1,49],[109.2,28],[109.3,41],[109.4,35],[109.5,50],[109.6,29],[109.7,42],[109.8,36],[109.9,51],[110.0,30],[110.1,43],[110.2,37],[110.3,52],[110.4,31],[110.5,44],[110.6,38],[110.7,53],[110.8,32],[110.9,45],[111.0,39],[111.1,54],[111.2,33],[111.3,46],[111.4,40],[111.5,55],[111.6,34],[111.7,47],[111.8,41],[111.9,56],[112.0,35],[112.1,48],[112.2,42],[112.3,57],[112.4,36],[112.5,49],[112.6,43],[112.7,58],[112.8,37],[112.9,50],[113.0,44],[113.1,59],[113.2,38],[113.3,51],[113.4,45],[113.5,60],[113.6,39],[113.7,52],[113.8,46],[113.9,61],[114.0,40],[114.1,53],[114.2,47],[114.3,62],[114.4,42],[114.5,55],[114.6,49],[114.7,64],[114.8,45],[114.9,57],[115.0,52],[115.1,67],[115.2,55],[115.3,62],[115.4,59],[115.5,72],[115.6,66],[115.7,71],[115.8,76],[115.9,79],[116.0,77],[116.15,83],[116.3,81],[116.45,79],[116.6,67],[116.75,71],[116.9,54],[117.0,62],[117.1,49],[117.2,60],[117.3,43],[117.4,55],[117.5,48],[117.6,37],[117.7,56],[117.8,44],[117.9,60],[118.0,39],[118.1,52],[118.2,46],[118.3,61],[118.4,38],[118.5,51],[118.6,45],[118.7,34],[118.8,55],[118.9,42],[119.0,58],[119.1,37],[119.2,50],[119.3,44],[119.4,59],[119.5,38],[119.6,51],[119.7,45],[119.8,60],[119.9,44]]

// peak assignments: [2theta, counts, text]
const peakLabels = [
  [48.90, 769, 'FeCo\n(110)'],
  [40.44, 688, 'C\n(100)'],
  [56.63, 661, 'Fe{sub|2}O{sub|3}'],
  [67.81, 661, 'FeO(OH)'],
  [67.25, 574, 'FeCo\n(200)'],
  [76.11, 570, 'C'],
  [81.47, 601, 'FeCo\n(211)'],
  [99.21, 534, 'FeCo\n(220)'],
  [116.11, 537, 'FeCo\n(310)'],
  [48.79, 316, 'FeCo\n(110)'],
  [40.65, 208, 'C\n(100)'],
  [65.08, 160, 'FeCo\n(200)'],
  [82.71, 163, 'FeCo\n(211)'],
  [99.21, 114, 'FeCo\n(220)'],
  [116.53, 115, 'FeCo\n(310)'],
]
const passivationNote = [120.24, 269, 'and Passivation (2% O{sub|2}/N{sub|2}, 30 min, 25{sup|o}C)']

// arrows: [from 2theta, from counts, to 2theta, to counts]
const peakArrows = [
  [41.16, 653, 42.23, 612],
  [55.80, 647, 53.76, 536],
  [57.45, 647, 61.27, 568],
  [62.40, 636, 57.69, 550],
  [63.43, 636, 62.45, 569],
  [76.84, 557, 77.72, 516],
  [40.44, 169, 41.33, 128],
]

const xMin = 39.48
const xMax = 120.41
const yMin = 0
const yMax = 1257

const rich = {
  sup: { fontSize: 16, fontFamily: serif, color: '#000', padding: [0, 0, 15, 0] },
  sub: { fontSize: 17, fontFamily: serif, color: '#000', padding: [14, 0, 0, 0] },
}

const chart = echarts.init(document.getElementById('xrd'))

const legendAt = (name, left, top, width) => ({
  data: [name],
  left: left,
  top: top,
  padding: 0,
  icon: 'rect',
  itemWidth: width,
  itemHeight: 1,
  selectedMode: false,
  formatter: n => n.replace('°', '{sup|o}'),
  textStyle: { fontFamily: serif, fontSize: 28, color: '#000', padding: [0, 0, 0, 3], rich: rich },
})

const pattern = (name, data, color) => ({
  name: name,
  type: 'line',
  data: data,
  xAxisIndex: 0,
  yAxisIndex: 0,
  symbol: 'none',
  showSymbol: false,
  lineStyle: { color: color, width: 1 },
  itemStyle: { color: color },
  silent: true,
})

const valueAxis = extra => Object.assign({
  type: 'value',
  splitLine: { show: false },
  axisLabel: { show: false },
}, extra)

const option = {
  animation: false,
  backgroundColor: '#fff',
  grid: { left: 93, right: 23, top: 12, bottom: 109, containLabel: false },
  legend: [
    legendAt('Before Reduction', 570, 89, 70),
    legendAt('After Reduction at 400°C', 492, 582, 73),
    legendAt('After Reduction at 500°C', 497, 951, 73),
  ],
  xAxis: [
    valueAxis({
      position: 'bottom', min: xMin, max: xMax,
      axisLine: { show: true, onZero: false, lineStyle: { color: '#000', width: 2 } },
      axisTick: { show: true, inside: false, length: 10, lineStyle: { color: '#000', width: 2 }, customValues: xMajorTicks },
      axisLabel: { show: true, customValues: xMajorTicks, fontFamily: sans, fontSize: 28, color: '#000', margin: 16 },
      name: '2{it|θ}{sup|o}',
      nameLocation: 'middle',
      nameGap: 76,
      nameTextStyle: {
        fontFamily: sans, fontSize: 28, color: '#000',
        rich: {
          it: { fontFamily: sans, fontStyle: 'italic', fontSize: 28, color: '#000' },
          sup: { fontFamily: sans, fontSize: 18, color: '#000', padding: [0, 0, 13, 2] },
        },
      },
    }),
    valueAxis({
      position: 'bottom', min: xMin, max: xMax,
      axisLine: { show: false, onZero: false },
      axisTick: { show: true, inside: false, length: 5, lineStyle: { color: '#000', width: 2 }, customValues: xMinorTicks },
    }),
    valueAxis({
      position: 'top', min: xMin, max: xMax,
      axisLine: { show: true, onZero: false, lineStyle: { color: '#000', width: 2 } },
      axisTick: { show: true, inside: false, length: 3, lineStyle: { color: '#000', width: 1 }, customValues: xTopTicks },
    }),
  ],
  yAxis: [
    valueAxis({
      position: 'left', min: yMin, max: yMax,
      axisLine: { show: true, onZero: false, lineStyle: { color: '#000', width: 2 } },
      axisTick: { show: true, inside: false, length: 10, lineStyle: { color: '#000', width: 2 }, customValues: yMajorTicks },
      name: 'Counts',
      nameLocation: 'middle',
      nameRotate: 90,
      nameGap: 52,
      nameTextStyle: { fontFamily: sans, fontSize: 29, color: '#000', padding: [0, 40, 0, 0] },
    }),
    valueAxis({
      position: 'left', min: yMin, max: yMax,
      axisLine: { show: false, onZero: false },
      axisTick: { show: true, inside: false, length: 6, lineStyle: { color: '#000', width: 2 }, customValues: yMinorTicks },
    }),
    valueAxis({
      position: 'right', min: yMin, max: yMax,
      axisLine: { show: true, onZero: false, lineStyle: { color: '#000', width: 2 } },
      axisTick: { show: true, inside: false, length: 3, lineStyle: { color: '#000', width: 1 }, customValues: yMajorTicks.concat(yMinorTicks) },
    }),
  ],
  graphic: {
    elements: [{
      type: 'text',
      x: 163,
      y: 1266,
      rotation: 53 * Math.PI / 180,
      z: 0,
      silent: true,
      style: {
        text: 'ACCEPTED MANUSCRIPT',
        font: '125px "Liberation Serif"',
        fill: '#e0e0e0',
        align: 'left',
        verticalAlign: 'middle',
      },
    }],
  },
  series: [
    pattern('Before Reduction', beforeReduction, '#00ff00'),
    pattern('After Reduction at 400°C', after400, '#ff0000'),
    pattern('After Reduction at 500°C', after500, '#0000ff'),
    {
      type: 'lines',
      coordinateSystem: 'cartesian2d',
      xAxisIndex: 0,
      yAxisIndex: 0,
      silent: true,
      symbol: ['none', 'triangle'],
      symbolSize: 14,
      lineStyle: { color: '#000', width: 3, opacity: 1 },
      data: peakArrows.map(a => ({ coords: [[a[0], a[1]], [a[2], a[3]]] })),
      z: 4,
    },
    {
      type: 'scatter',
      xAxisIndex: 0,
      yAxisIndex: 0,
      silent: true,
      symbolSize: 0,
      itemStyle: { opacity: 1 },
      data: peakLabels.map(d => ({ value: [d[0], d[1]], name: d[2] })).concat([{
        value: [passivationNote[0], passivationNote[1]],
        name: passivationNote[2],
        label: { align: 'right' },
      }]),
      label: {
        show: true,
        position: 'inside',
        formatter: p => p.name,
        fontFamily: serif,
        fontSize: 28,
        lineHeight: 34,
        color: '#000',
        opacity: 1,
        rich: rich,
      },
      z: 5,
    },
  ],
}

chart.setOption(option)
</script>
</body>
</html>
